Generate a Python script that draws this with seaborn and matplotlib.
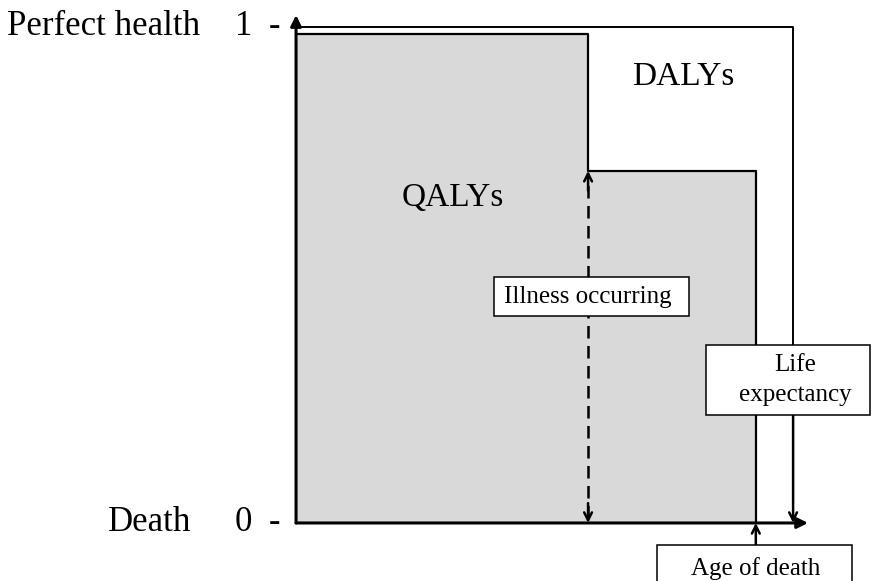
import matplotlib
matplotlib.use("Agg")
import matplotlib.pyplot as plt
from matplotlib.patches import Rectangle
import seaborn as sns

# health-state profile over a lifetime (age in years, health weight 0..1)
step_ages = [0, 47, 74]            # birth, illness onset, age of death
step_health = [0.985, 0.71, 0.0]   # health weight from each age onwards
life_expectancy = 80
perfect_health = 1.0
axis_labels = ["Perfect health", "Death"]
axis_values = ["1", "0"]
area_labels = ["QALYs", "DALYs"]
box_labels = ["Illness occurring", "Life\nexpectancy", "Age of death"]

sns.set_theme(style="white")
plt.rcParams['font.family'] = ['Liberation Serif', 'DejaVu Serif']
plt.rcParams['text.color'] = 'black'

fig = plt.figure(figsize=(8.72, 5.81), dpi=100)
ax = fig.add_axes([0, 0, 1, 1])
ax.set_xlim(-47.65, 92.7)
ax.set_ylim(-0.117, 1.0544)
ax.axis("off")

onset, death = step_ages[1], step_ages[2]

# QALY area (grey) and its outline
ax.fill_between(step_ages, [step_health[0], step_health[1], step_health[1]],
                step="post", color="#d9d9d9", lw=0, zorder=1)
sns.lineplot(x=step_ages, y=step_health, drawstyle="steps-post",
             estimator=None, sort=False, color="black", lw=1.6, ax=ax, zorder=3)

# DALY outer frame: perfect health up to life expectancy
le_box = (66.0, 0.218, 26.4, 0.141)
ax.plot([0, life_expectancy, life_expectancy],
        [perfect_health, perfect_health, le_box[1] + le_box[3]],
        color="black", lw=1.4, zorder=3)

head = dict(arrowstyle="->", lw=1.8, color="black", shrinkA=0, shrinkB=0,
            mutation_scale=14)
solid = dict(arrowstyle="-|>", lw=2.2, color="black", shrinkA=0, shrinkB=0,
             mutation_scale=16)

# axes with arrows
ax.annotate("", xy=(0, 1.024), xytext=(0, 0), arrowprops=solid, zorder=4)
ax.annotate("", xy=(82.4, 0), xytext=(0, 0), arrowprops=solid, zorder=4)

# illness onset dashed double arrow
ax.plot([onset, onset], [0.01, step_health[1] - 0.01], color="black",
        lw=1.8, ls=(0, (5, 3)), zorder=3)
ax.annotate("", xy=(onset, step_health[1]), xytext=(onset, step_health[1] - 0.04),
            arrowprops=head, zorder=4)
ax.annotate("", xy=(onset, 0), xytext=(onset, 0.04), arrowprops=head, zorder=4)

# life expectancy arrow
ax.annotate("", xy=(life_expectancy, 0), xytext=(life_expectancy, le_box[1]),
            arrowprops=head, zorder=4)

# age of death arrow
ad_box = (58.1, -0.2, 31.4, 0.156)
ax.annotate("", xy=(death, 0), xytext=(death, ad_box[1] + ad_box[3]),
            arrowprops=head, zorder=4)

# boxes
il_box = (31.9, 0.417, 31.4, 0.079)
for (bx, by, bw, bh), label, cx in zip([il_box, le_box, ad_box], box_labels,
                                       [onset, life_expectancy + 0.3, death]):
    ax.add_patch(Rectangle((bx, by), bw, bh, facecolor="white",
                           edgecolor="black", lw=1.1, zorder=5))
    cy = by + bh / 2 if label != box_labels[2] else -0.092
    ax.text(cx, cy, label, ha="center", va="center", fontsize=18,
            linespacing=1.5, zorder=6)

# area labels
ax.text(25.3, 0.655, area_labels[0], ha="center", va="center", fontsize=24)
ax.text(62.3, 0.899, area_labels[1], ha="center", va="center", fontsize=24)

# y-axis labels
for lab, val, yv, xr in zip(axis_labels, axis_values, [perfect_health, 0],
                            [-15.4, -16.9]):
    ax.text(xr, yv, lab, ha="right", va="center", fontsize=25)
    ax.text(-8.5, yv, val, ha="center", va="center", fontsize=25)
    ax.text(-3.4, yv, "-", ha="center", va="center", fontsize=25)

fig.savefig("out.png", dpi=100)
